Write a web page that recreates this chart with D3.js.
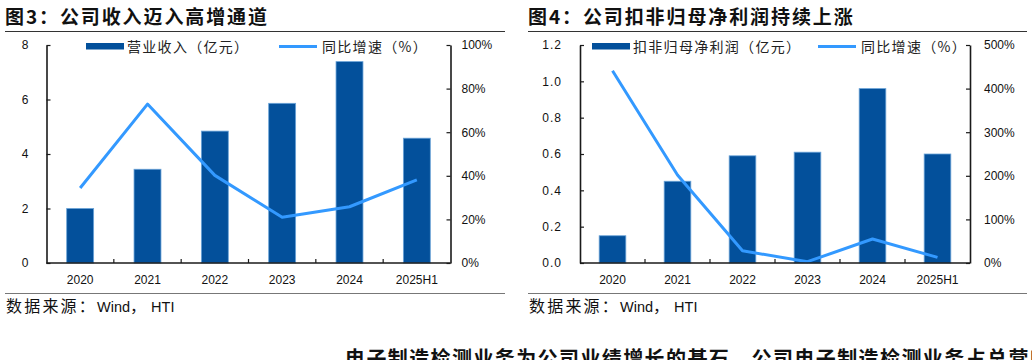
<!DOCTYPE html>
<html>
<head>
<meta charset="utf-8">
<script src="https://cdn.jsdelivr.net/npm/d3@7"></script>
<style>
  html, body { margin: 0; padding: 0; background: #fff; overflow: hidden; }
  svg { display: block; }
  .cjk { font-family: "Noto Sans CJK SC", "Noto Sans", sans-serif; }
  .lat { font-family: "Liberation Sans", Arial, sans-serif; }
</style>
</head>
<body>
<svg id="chart" width="1032" height="360"></svg>
<script>
// ---------- data ----------
const categories = ["2020", "2021", "2022", "2023", "2024", "2025H1"];
const revenue = [2.0, 3.44, 4.84, 5.86, 7.39, 4.58];          // 营业收入（亿元）
const revenueGrowth = [34.4, 72.9, 40.2, 21.0, 25.8, 38.1];   // 同比增速（%）
const profit = [0.15, 0.45, 0.59, 0.61, 0.96, 0.60];          // 扣非归母净利润（亿元）
const profitGrowth = [441, 202, 28, 3, 55, 13];               // 同比增速（%）
const revenueTicks = [0, 2, 4, 6, 8];
const revenueGrowthTicks = [0, 20, 40, 60, 80, 100];
const profitTicks = [0, 0.2, 0.4, 0.6, 0.8, 1.0, 1.2];
const profitGrowthTicks = [0, 100, 200, 300, 400, 500];

const titles = ["图3：公司收入迈入高增通道", "图4：公司扣非归母净利润持续上涨"];
const legendBar = ["营业收入（亿元）", "扣非归母净利润（亿元）"];
const legendLine = "同比增速（%）";
const sourceText = ["数据来源：", "Wind", "，", "HTI"];
const bottomText = "电子制造检测业务为公司业绩增长的基石。公司电子制造检测业务占总营收比重";

// ---------- styles ----------
const BAR = "#03509b";
const BAR_EDGE = "#6aa3d8";
const LINE = "#3399ff";
const AXIS = "#1a1a1a";

const svg = d3.select("#chart");

function panel(cfg) {
  const g = svg.append("g");
  const x = d3.scaleBand().domain(categories).range([cfg.xL, cfg.xR]).padding(0);
  const bw = x.bandwidth();
  const yL = d3.scaleLinear().domain([0, cfg.leftMax]).range([cfg.yBot, cfg.yTop]);
  const yR = d3.scaleLinear().domain([0, cfg.rightMax]).range([cfg.yBot, cfg.yTop]);

  // title
  g.append("text").attr("class", "cjk")
    .attr("x", cfg.titleX).attr("y", 24)
    .attr("font-size", 19).attr("font-weight", "bold")
    .attr("letter-spacing", 1.9).attr("fill", "#111")
    .text(cfg.title);
  g.append("line").attr("x1", cfg.titleX).attr("x2", cfg.ruleX2)
    .attr("y1", 31.5).attr("y2", 31.5).attr("stroke", "#333").attr("stroke-width", 1.2);

  // bars
  g.selectAll("rect.bar").data(cfg.bars).join("rect").attr("class", "bar")
    .attr("x", (d, i) => x(categories[i]) + bw * (1 - cfg.barFrac) / 2)
    .attr("width", bw * cfg.barFrac)
    .attr("y", d => yL(d))
    .attr("height", d => yL(0) - yL(d))
    .attr("fill", BAR).attr("stroke", BAR_EDGE).attr("stroke-width", 0.8);

  // line
  const line = d3.line()
    .x((d, i) => x(categories[i]) + bw / 2)
    .y(d => yR(d));
  g.append("path").datum(cfg.line)
    .attr("d", line).attr("fill", "none")
    .attr("stroke", LINE).attr("stroke-width", 3).attr("stroke-linejoin", "round");

  // left axis
  const la = g.append("g").attr("transform", `translate(${cfg.xL},0)`)
    .call(d3.axisLeft(yL).tickValues(cfg.leftTicks).tickFormat(cfg.leftFmt)
      .tickSizeInner(-4).tickSizeOuter(0).tickPadding(cfg.leftPad));
  // right axis
  const ra = g.append("g").attr("transform", `translate(${cfg.xR},0)`)
    .call(d3.axisRight(yR).tickValues(cfg.rightTicks).tickFormat(d => d + "%")
      .tickSizeInner(-4).tickSizeOuter(0).tickPadding(cfg.rightPad));
  [la, ra].forEach(a => {
    a.select(".domain").attr("stroke", AXIS).attr("stroke-width", 1.6);
    a.selectAll(".tick line").attr("stroke", AXIS).attr("stroke-width", 1.2);
    a.selectAll(".tick text").attr("class", "lat").attr("font-size", 12).attr("fill", "#111");
  });
  la.selectAll(".tick text").attr("letter-spacing", cfg.leftLS);

  // bottom axis
  const ba = g.append("g");
  ba.append("line").attr("x1", cfg.xL).attr("x2", cfg.xR)
    .attr("y1", cfg.yBot).attr("y2", cfg.yBot).attr("stroke", AXIS).attr("stroke-width", 1.6);
  ba.selectAll("line.tk").data(categories.slice(1)).join("line").attr("class", "tk")
    .attr("x1", d => x(d)).attr("x2", d => x(d))
    .attr("y1", cfg.yBot).attr("y2", cfg.yBot - 4)
    .attr("stroke", AXIS).attr("stroke-width", 1.2);
  ba.selectAll("text").data(categories).join("text").attr("class", "lat")
    .attr("x", d => x(d) + bw / 2).attr("y", 284)
    .attr("text-anchor", "middle").attr("font-size", 12).attr("fill", "#111")
    .text(d => d);

  // legend
  const lg = g.append("g");
  lg.append("rect").attr("x", cfg.legRectX).attr("y", 43).attr("width", 38).attr("height", 6.5)
    .attr("fill", BAR);
  lg.append("text").attr("class", "cjk").attr("x", cfg.legRectX + 41).attr("y", 51.5)
    .attr("font-size", 14).attr("letter-spacing", 1.3).attr("fill", "#222")
    .text(cfg.legendBar);
  lg.append("line").attr("x1", cfg.legLineX).attr("x2", cfg.legLineX + 38)
    .attr("y1", 46.5).attr("y2", 46.5).attr("stroke", LINE).attr("stroke-width", 3);
  lg.append("text").attr("class", "cjk").attr("x", cfg.legLineX + 43).attr("y", 51.5)
    .attr("font-size", 14).attr("letter-spacing", 1.3).attr("fill", "#222")
    .text(legendLine);

  // source
  g.append("line").attr("x1", cfg.titleX).attr("x2", cfg.ruleX2)
    .attr("y1", 293.5).attr("y2", 293.5).attr("stroke", "#777").attr("stroke-width", 1.2);
  const st = g.append("text").attr("x", cfg.titleX + 1).attr("y", 312).attr("fill", "#111");
  st.append("tspan").attr("class", "cjk").attr("font-size", 16).attr("letter-spacing", 2.2).text(sourceText[0]);
  st.append("tspan").attr("class", "lat").attr("font-size", 14.5).text(sourceText[1]);
  st.append("tspan").attr("class", "cjk").attr("font-size", 16).attr("letter-spacing", 5).text(sourceText[2]);
  st.append("tspan").attr("class", "lat").attr("font-size", 14.5).text(sourceText[3]);
}

panel({
  title: titles[0], titleX: 5, ruleX2: 505,
  xL: 46.5, xR: 450.5, yTop: 45, yBot: 263,
  leftMax: 8, rightMax: 100,
  leftTicks: revenueTicks, rightTicks: revenueGrowthTicks,
  leftFmt: d3.format("d"), leftPad: 18, rightPad: 11, leftLS: 0,
  bars: revenue, line: revenueGrowth, barFrac: 0.4,
  legendBar: legendBar[0], legRectX: 86, legLineX: 279
});

panel({
  title: titles[1], titleX: 528, ruleX2: 1027,
  xL: 580, xR: 970, yTop: 45, yBot: 263,
  leftMax: 1.2, rightMax: 500,
  leftTicks: profitTicks, rightTicks: profitGrowthTicks,
  leftFmt: d3.format(".1f"), leftPad: 18, rightPad: 14, leftLS: 1,
  bars: profit, line: profitGrowth, barFrac: 0.41,
  legendBar: legendBar[1], legRectX: 592, legLineX: 818
});

// cut-off body text at the bottom (partially visible in the reference too)
svg.append("text").attr("class", "cjk")
  .attr("x", 345).attr("y", 366)
  .attr("font-size", 20).attr("font-weight", "bold").attr("letter-spacing", 1.4)
  .attr("fill", "#111").text(bottomText);
</script>
</body>
</html>
